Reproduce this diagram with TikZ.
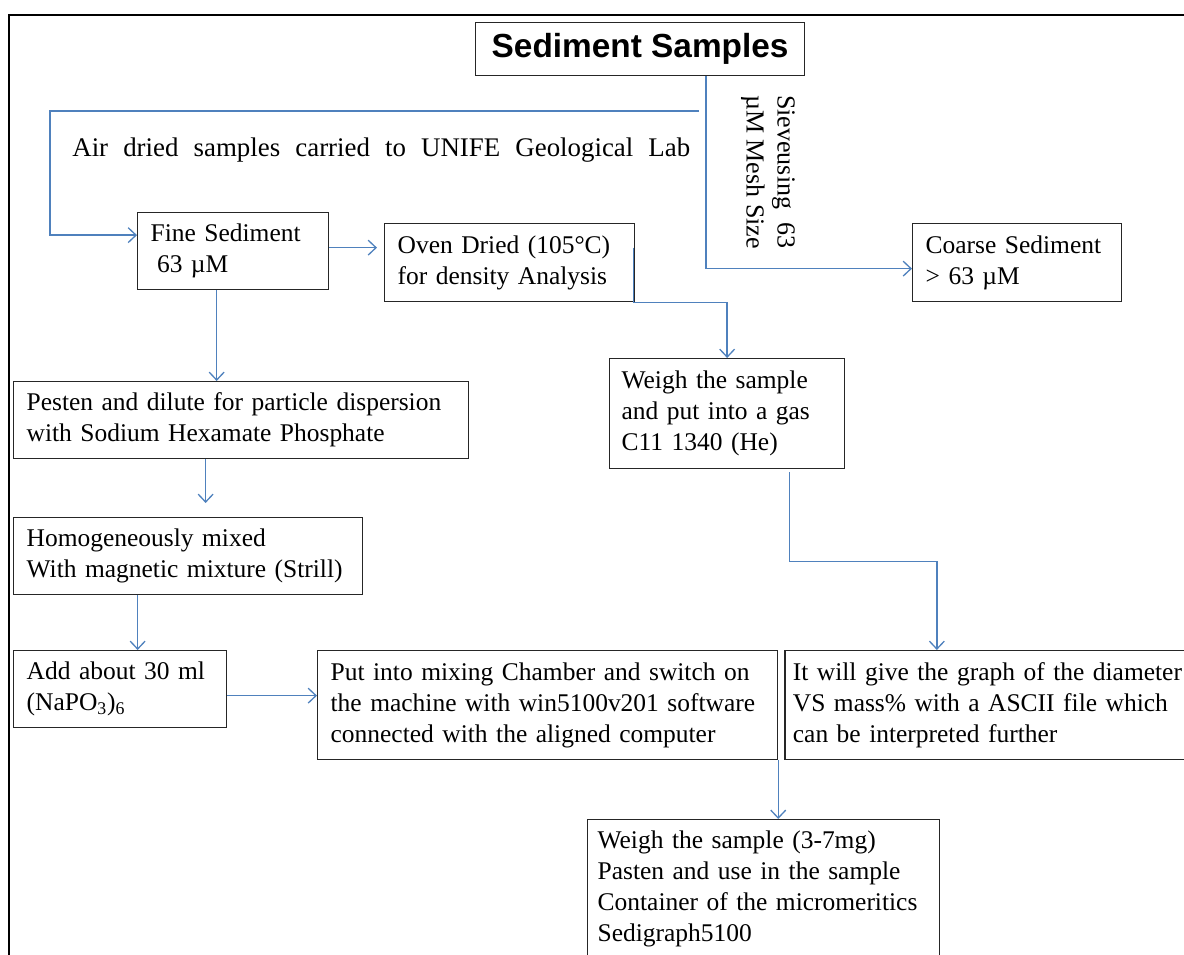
\documentclass[tikz,border=0pt]{standalone}
\usepackage{fontspec}
\setmainfont{Liberation Serif}
\newfontfamily\headfont{Liberation Sans}
\newfontfamily\airfont[WordSpace=2.25]{Liberation Serif}
\usetikzlibrary{positioning}
\usetikzlibrary{arrows.meta}
\usetikzlibrary{calc}
\definecolor{flowblue}{RGB}{79,129,189}

\begin{document}
\begin{tikzpicture}[
  x=0.02cm, y=-0.02cm, % one unit per pixel, y runs down
  box/.style={
    draw=black!85,
    line width=0.75pt,
    anchor=north west,
    align=left,
    inner xsep=0.26cm,
    inner ysep=0pt,
    font=\fontsize{14.5}{17.6}\selectfont
  },
  flow/.style={-{Straight Barb[length=4.5pt,width=8.5pt]}, draw=flowblue, line width=0.75pt}
]
\useasboundingbox (0,0) rectangle (1184,955);
\clip (0,0) rectangle (1184,955);

% frame
\draw[line width=1.4pt] (1184,15) -- (9,15) -- (9,955);

\node[box, minimum width=6.58cm, minimum height=1.06cm, align=center, inner xsep=0pt,
  font=\headfont\bfseries\fontsize{19}{22}\selectfont] (samples) at (475,22) {Sediment Samples};

\node[box, text width=3.30cm, minimum height=1.54cm] (fine) at (137,212) {Fine Sediment\\\hspace*{0.25em}63 µM};
\node[box, text width=4.48cm, minimum height=1.56cm] (oven) at (384,223) {Oven Dried (105°C)\\for density Analysis};
\node[box, text width=3.66cm, minimum height=1.56cm] (coarse) at (912,223) {Coarse Sediment\\> 63 µM};
\node[box, text width=4.22cm, minimum height=2.2cm, inner xsep=0.24cm] (weigh) at (609,358) {Weigh the sample\\and put into a gas\\C11 1340 (He)};
\node[box, text width=8.58cm, minimum height=1.54cm] (pesten) at (13,381) {Pesten and dilute for particle dispersion\\with Sodium Hexamate Phosphate};
\node[box, text width=6.46cm, minimum height=1.54cm] (mixed) at (13,517) {Homogeneously mixed\\With magnetic mixture (Strill)};
\node[box, text width=3.74cm, minimum height=1.54cm] (dilute) at (13,650) {Add about 30 ml\\(NaPO\textsubscript{3})\textsubscript{6}};
\node[box, text width=8.68cm, minimum height=2.18cm] (chamber) at (317,650) {Put into mixing Chamber and switch on\\the machine with win5100v201 software\\connected with the aligned computer};
\node[box, text width=8.0cm, minimum height=2.18cm, inner xsep=0.16cm, right=0.12cm of chamber] (graph) {It will give the graph of the diameter\\VS mass\% with a ASCII file which\\can be interpreted further};
\node[box, text width=6.64cm, minimum height=2.76cm, inner xsep=0.2cm] (sedigraph) at (587,819) {Weigh the sample (3-7mg)\\Pasten and use in the sample\\Container of the micromeritics\\Sedigraph5100};

% labels
\node[anchor=base west, inner sep=0pt, font=\airfont\fontsize{15.3}{18}\selectfont] (airlabel) at (72,157) {Air dried samples carried to UNIFE Geological Lab};
\node[rotate=-90, align=left, inner sep=0pt, font=\fontsize{14.8}{17.6}\selectfont] (sievelabel) at (768,172) {Sieveusing\ \ 63\\µM Mesh Size};

% connectors
\coordinate (sievex) at (706,0);
\coordinate (airstart) at (699,111);
\coordinate (ovenout) at ([xshift=-0.04cm,yshift=0.3cm]oven.east);
\coordinate (fineout) at ([xshift=-0.33cm]fine.south);
\coordinate (pestenout) at ([xshift=-0.71cm]pesten.south);
\coordinate (mixedout) at ([xshift=-1.01cm]mixed.south);
\coordinate (diluteout) at ([yshift=-0.13cm]dilute.east);
\coordinate (weighout) at ([xshift=1.25cm,yshift=-0.06cm]weigh.south);
\coordinate (graphin) at ([xshift=-1.12cm]graph.north);

\draw[flow] (samples.south -| sievex) |- ([yshift=-0.12cm]coarse.west);
\draw[flow] (airstart) -| ([xshift=-1.74cm,yshift=0.32cm]fine.west) -- ([yshift=0.32cm]fine.west);
\draw[flow, shorten >=0.14cm] ([yshift=0.07cm]fine.east) -- ([yshift=0.07cm]fine.east -| oven.west);
\draw[flow] (ovenout) -- ++(0,55) -| (weigh.north);
\draw[flow] (fineout) -- (fineout |- pesten.north);
\draw[flow, shorten >=0.28cm] (pestenout) -- (pestenout |- mixed.north);
\draw[flow] (mixedout) -- (mixedout |- dilute.north);
\draw[flow] (diluteout) -- (diluteout -| chamber.west);
\draw[flow] (weighout) -- ++(0,89) -| (graphin);
\draw[flow] (chamber.south east) -- (chamber.south east |- sedigraph.north);
\end{tikzpicture}
\end{document}
